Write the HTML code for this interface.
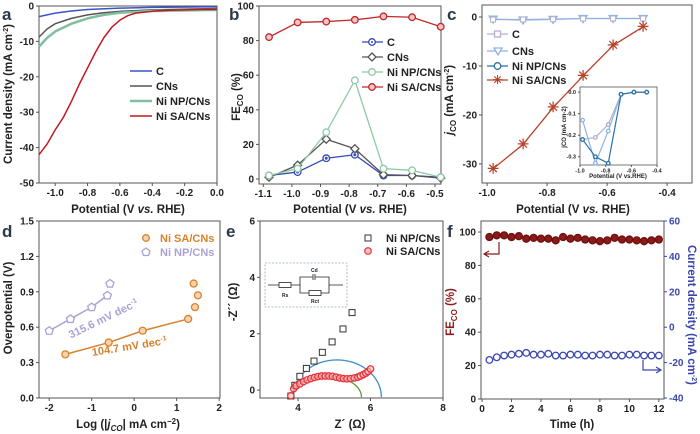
<!DOCTYPE html>
<html><head><meta charset="utf-8"><style>
html,body{margin:0;padding:0;background:#fff}
svg{display:block;font-family:"Liberation Sans",Arial,sans-serif;font-weight:bold}
.tk{font-size:10px;fill:#222}
.ti{font-size:11.5px;fill:#222}
.lg{font-size:11px;fill:#222}
.pl{font-size:17px;fill:#2b3a4a}
</style></head><body>
<svg id="fig" width="700" height="434" viewBox="0 0 700 434">
<g id="static">
<text class="pl" x="2" y="20">a</text>
<text class="pl" x="229" y="20">b</text>
<text class="pl" x="447" y="20">c</text>
<text class="pl" x="2" y="237">d</text>
<text class="pl" x="226" y="237">e</text>
<text class="pl" x="447" y="237">f</text>

<text class="ti" x="128" y="213" text-anchor="middle">Potential (V <tspan font-style="italic">vs.</tspan> RHE)</text>
<text class="ti" transform="translate(12,94) rotate(-90)" text-anchor="middle">Current density (mA cm<tspan dy="-4" font-size="7">-2</tspan><tspan dy="4">)</tspan></text>
<text class="ti" x="350" y="213" text-anchor="middle">Potential (V <tspan font-style="italic">vs.</tspan> RHE)</text>
<text class="ti" transform="translate(240,97) rotate(-90)" text-anchor="middle">FE<tspan dy="3" font-size="8">CO</tspan><tspan dy="-3"> (%)</tspan></text>
<text class="ti" x="573" y="213" text-anchor="middle">Potential (V <tspan font-style="italic">vs.</tspan> RHE)</text>
<text class="ti" transform="translate(453,100) rotate(-90)" text-anchor="middle"><tspan font-style="italic">j</tspan><tspan dy="3" font-size="8">CO</tspan><tspan dy="-3"> (mA cm</tspan><tspan dy="-4" font-size="7">-2</tspan><tspan dy="4">)</tspan></text>
<text class="ti" x="128" y="428" text-anchor="middle">Log (|<tspan font-style="italic">j</tspan><tspan dy="3" font-size="8" font-style="italic">CO</tspan><tspan dy="-3">| mA cm</tspan><tspan dy="-4" font-size="8">−2</tspan><tspan dy="4">)</tspan></text>
<text class="ti" transform="translate(12,308) rotate(-90)" text-anchor="middle">Overpotential (V)</text>
<text class="ti" x="350" y="428" text-anchor="middle">Z´ (Ω)</text>
<text class="ti" transform="translate(237,302) rotate(-90)" text-anchor="middle">-Z´´ (Ω)</text>
<text class="ti" x="572" y="428" text-anchor="middle">Time (h)</text>
<text class="ti" transform="translate(454,312) rotate(-90)" text-anchor="middle" style="fill:#8b1a1a">FE<tspan dy="3" font-size="8">CO</tspan><tspan dy="-3"> (%)</tspan></text>
<text class="ti" transform="translate(688,315) rotate(90)" text-anchor="middle" style="fill:#3b46b0">Current density (mA cm<tspan dy="-4" font-size="7">-2</tspan><tspan dy="4">)</tspan></text>

<g>
<line x1="130" y1="71" x2="152" y2="71" stroke="#3a55c8" stroke-width="1.5"/><text class="lg" x="156" y="75">C</text>
<line x1="130" y1="86" x2="152" y2="86" stroke="#555" stroke-width="1.5"/><text class="lg" x="156" y="90">CNs</text>
<line x1="130" y1="101" x2="152" y2="101" stroke="#7fbf9f" stroke-width="2.5"/><text class="lg" x="156" y="105">Ni NP/CNs</text>
<line x1="130" y1="116" x2="152" y2="116" stroke="#c0191f" stroke-width="1.5"/><text class="lg" x="156" y="120">Ni SA/CNs</text>
</g>
<g>
<line x1="362" y1="42" x2="383" y2="42" stroke="#3347b5" stroke-width="1.3"/><circle cx="372" cy="42" r="3.3" fill="#fff" stroke="#3347b5" stroke-width="1.3"/><circle cx="372" cy="42" r="1" fill="#3347b5"/><text class="lg" x="387" y="46">C</text>
<line x1="362" y1="57" x2="383" y2="57" stroke="#555" stroke-width="1.3"/><path d="M372 53 L376 57 L372 61 L368 57Z" fill="#fff" stroke="#555" stroke-width="1.3"/><text class="lg" x="387" y="61">CNs</text>
<line x1="362" y1="72" x2="383" y2="72" stroke="#8fc9a7" stroke-width="1.3"/><circle cx="372" cy="72" r="3.3" fill="#fff" stroke="#8fc9a7" stroke-width="1.3"/><text class="lg" x="387" y="76">Ni NP/CNs</text>
<line x1="362" y1="87" x2="383" y2="87" stroke="#c0282a" stroke-width="1.3"/><circle cx="372" cy="87" r="3.3" fill="#f3c4c4" stroke="#c0282a" stroke-width="1.3"/><text class="lg" x="387" y="91">Ni SA/CNs</text>
</g>
<g>
<line x1="487" y1="34" x2="508" y2="34" stroke="#b3aed0" stroke-width="1.3"/><rect x="494.5" y="31" width="6" height="6" fill="#fff" stroke="#b3aed0" stroke-width="1.3"/><text class="lg" x="512" y="38">C</text>
<line x1="487" y1="51" x2="508" y2="51" stroke="#8fb4e0" stroke-width="1.3"/><path d="M494 48 L502 48 L498 55Z" fill="#fff" stroke="#8fb4e0" stroke-width="1.3"/><text class="lg" x="512" y="55">CNs</text>
<line x1="487" y1="66" x2="508" y2="66" stroke="#2a6fa8" stroke-width="1.3"/><circle cx="497.5" cy="66" r="3.3" fill="#fff" stroke="#2a6fa8" stroke-width="1.3"/><text class="lg" x="512" y="70">Ni NP/CNs</text>
<line x1="487" y1="80" x2="508" y2="80" stroke="#b8432c" stroke-width="1.3"/><text x="497.5" y="84" text-anchor="middle" font-size="12" fill="#b8432c">✳</text><text class="lg" x="512" y="84">Ni SA/CNs</text>
</g>
<g>
<circle cx="146" cy="238" r="3.3" fill="#f6d2ae" stroke="#d9822b" stroke-width="1.3"/><text class="lg" x="160" y="242" fill="#d9822b" style="fill:#d9822b">Ni SA/CNs</text>
<path d="M146 248 L150 251 L148.5 255.5 L143.5 255.5 L142 251Z" fill="#fff" stroke="#a9a3d4" stroke-width="1.3"/><text class="lg" x="160" y="256" style="fill:#a9a3d4">Ni NP/CNs</text>
</g>
<text font-size="11" transform="translate(105,322) rotate(-26)" text-anchor="middle" fill="#a9a3d4">315.6 mV dec<tspan dy="-4" font-size="7">-1</tspan></text>
<text font-size="11" transform="translate(130,350) rotate(-9)" text-anchor="middle" fill="#d9822b">104.7 mV dec<tspan dy="-4" font-size="7">-1</tspan></text>
<g>
<rect x="365" y="235" width="6" height="6" fill="#fff" stroke="#333" stroke-width="1"/><text class="lg" x="386" y="242">Ni NP/CNs</text>
<circle cx="368" cy="251" r="3.3" fill="#f8c0c0" stroke="#e8333a" stroke-width="1.2"/><text class="lg" x="386" y="255">Ni SA/CNs</text>
</g>
<g>
<rect x="265" y="263" width="82" height="44" fill="none" stroke="#9ab" stroke-width="0.8" stroke-dasharray="2,1.5"/>
<path d="M268 285 H279 M291 285 H300 V277 H313 M315 277 H329 V285 H343 M300 285 V293 H309 M321 293 H329 V285" fill="none" stroke="#222" stroke-width="0.8"/>
<rect x="279" y="282.5" width="12" height="5" fill="#fff" stroke="#222" stroke-width="0.8"/>
<rect x="309" y="290.5" width="12" height="5" fill="#fff" stroke="#222" stroke-width="0.8"/>
<line x1="313" y1="274" x2="313" y2="280" stroke="#222" stroke-width="0.8"/><line x1="315" y1="274" x2="315" y2="280" stroke="#222" stroke-width="0.8"/>
<text x="311" y="272" font-size="5" fill="#222">Cd</text><text x="282" y="297" font-size="5" fill="#222">Rs</text><text x="311" y="303" font-size="5" fill="#222">Rct</text>
</g>
<path d="M499 242 V254 H485 M489 251 L484 254 L489 257" fill="none" stroke="#8b1a1a" stroke-width="1.2"/>
<path d="M643 360 V370 H660 M656 367 L661 370 L656 373" fill="none" stroke="#3b46b0" stroke-width="1.2"/>
</g>
<g id="dyn"></g>
</svg>
<script>
// ---------- data ----------
const aX_C=[-1.1,-1.0,-0.9,-0.8,-0.6,-0.4,0];
const aY_C=[-3,-2,-1.4,-1,-0.6,-0.4,-0.2];
const aX_CNs=[-1.1,-1.05,-1.0,-0.9,-0.8,-0.7,-0.6,-0.4,0];
const aY_CNs=[-8.8,-6.5,-5,-3.5,-2.5,-1.9,-1.5,-1.1,-0.7];
const aX_NP=[-1.1,-1.05,-1.0,-0.9,-0.8,-0.7,-0.6,-0.4,0];
const aY_NP=[-11.5,-9,-7.2,-5,-3.5,-2.5,-1.9,-1.4,-1.1];
const aX_SA=[-1.1,-1.05,-1.0,-0.95,-0.9,-0.85,-0.8,-0.75,-0.7,-0.65,-0.6,-0.55,-0.5,-0.4,-0.3,-0.2,-0.1,0];
const aY_SA=[-42,-39,-35,-31.5,-27,-22,-17.5,-13,-9,-6,-4,-2.7,-2,-1.5,-1.2,-1.1,-1.0,-1.0];
const aXTicks=[-1.0,-0.8,-0.6,-0.4,-0.2,0.0];
const aXLabels=["-1.0","-0.8","-0.6","-0.4","-0.2","0.0"];
const aYTicks=[0,-10,-20,-30,-40,-50];

const bX=[-1.08,-0.98,-0.88,-0.78,-0.68,-0.58,-0.48];
const bSA=[82,90.5,91,92,94,93.5,88];
const bNP=[2,6,27,57,6,5,1];
const bCNs=[1,8,23,17.5,2.5,2,0.5];
const bC=[2,4,12,14,2,2,1];
const bXTicks=[-1.1,-1.0,-0.9,-0.8,-0.7,-0.6,-0.5];
const bXLabels=["-1.1","-1.0","-0.9","-0.8","-0.7","-0.6","-0.5"];
const bYTicks=[0,20,40,60,80,100];

const cX=[-0.98,-0.88,-0.78,-0.68,-0.58,-0.48];
const cSA=[-31,-26,-18.5,-12,-5.8,-2];
const cC=[-0.22,-0.21,-0.15,-0.01,0,0];
const cCNs=[-0.13,-0.33,-0.18,-0.01,0,0];
const cNP=[-0.22,-0.30,-0.33,-0.01,0,0];
const cXTicks=[-1.0,-0.8,-0.6,-0.4];
const cXLabels=["-1.0","-0.8","-0.6","-0.4"];
const cYTicks=[0,-10,-20,-30];
const ciYTicks=[0,-0.1,-0.2,-0.3];
const ciYLabels=["0.0","-0.1","-0.2","-0.3"];

const dSAx=[-1.62,-0.6,0.2,1.27];
const dSAy=[0.37,0.47,0.57,0.67];
const dSAxExtra=[1.4,1.5,1.43];
const dSAyExtra=[0.97,0.87,0.77];
const dNPx=[-2,-1.5,-1,-0.63];
const dNPy=[0.57,0.67,0.77,0.87];
const dNPxExtra=[-0.57];
const dNPyExtra=[0.97];
const dXTicks=[-2,-1,0,1,2];
const dYTicks=[0,0.3,0.6,0.9,1.2,1.5];
const dYLabels=["0.0","0.3","0.6","0.9","1.2","1.5"];

const eNPx=[3.80,3.91,4.05,4.23,4.44,4.67,4.94,5.24,5.49];
const eNPy=[-0.21,0.17,0.49,0.77,1.03,1.34,1.71,2.17,2.75];
const eSAx=[3.8,3.88,3.95,4.05,4.15,4.25,4.35,4.45,4.55,4.65,4.75,4.85,4.95,5.05,5.15,5.25,5.35,5.45,5.55,5.65,5.72,5.8,5.87,5.93,6.0];
const eSAy=[-0.2,0.05,0.15,0.22,0.3,0.36,0.41,0.45,0.48,0.5,0.5,0.5,0.49,0.46,0.43,0.41,0.4,0.41,0.43,0.46,0.5,0.55,0.6,0.66,0.75];
const eFitBlue=[3.85,6.3,1.07];
const eFitGreen=[3.85,5.75,0.5];
const eXTicks=[4,6,8];
const eYTicks=[0,2,4,6];

const fT=[0.5,1,1.5,2,2.5,3,3.5,4,4.5,5,5.5,6,6.5,7,7.5,8,8.5,9,9.5,10,10.5,11,11.5,12];
const fFE=[97,98,98,97,97.5,96,96.5,96,96,95,97,96,96.5,95.5,95,94.5,95,96.5,95.5,95.5,95,94.5,95,95.5];
const fJ=[-18.5,-17,-16,-15.5,-15,-14.5,-15.5,-15.5,-15,-16,-16,-15.5,-15.5,-16,-16,-15.5,-15.5,-16,-16,-15.5,-15.5,-16,-16,-16];
const fXTicks=[0,2,4,6,8,10,12];
const fYTicks=[0,20,40,60,80,100];
const fRTicks=[-40,-20,0,20,40,60];

// ---------- helpers ----------
const NS="http://www.w3.org/2000/svg";
const root=document.getElementById('dyn');
function mk(tag,attrs,parent){const e=document.createElementNS(NS,tag);for(const k in attrs)e.setAttribute(k,attrs[k]);(parent||root).appendChild(e);return e;}
function scale(d0,d1,p0,p1){return v=>p0+(v-d0)*(p1-p0)/(d1-d0);}
function frame(id,l,t,r,b){const e=mk('rect',{x:l,y:t,width:r-l,height:b-t,fill:'none',stroke:'#555','stroke-width':1});

}
function xTicks(id,sx,b,ticks,labels,fs,len,cls){ticks.forEach((v,i)=>{const x=sx(v);
const ln=mk('line',{x1:x,y1:b,x2:x,y2:b+len,stroke:'#555','stroke-width':1});


const tx=mk('text',{x:x,y:b+len+fs,'text-anchor':'middle','font-size':fs,fill:'#222'});
tx.textContent=labels?labels[i]:String(v);

});}
function yTicks(id,sy,l,ticks,labels,fs,len,side,col){ticks.forEach((v,i)=>{const y=sy(v);const d=side==='r'?1:-1;
const ln=mk('line',{x1:l,y1:y,x2:l+d*len,y2:y,stroke:col||'#555','stroke-width':1});


const tx=mk('text',{x:l+d*(len+2),y:y+fs*0.35,'text-anchor':side==='r'?'start':'end','font-size':fs,fill:col||'#222'});
tx.textContent=labels?labels[i]:String(v);

});}
function line(xs,ys,sx,sy,col,w,name){const p=mk('polyline',{points:xs.map((x,i)=>sx(x)+','+sy(ys[i])).join(' '),fill:'none',stroke:col,'stroke-width':w,'stroke-linejoin':'round'});

return p;}
function circ(x,y,r,fill,stroke,name){const c=mk('circle',{cx:x,cy:y,r:r,fill:fill,stroke:stroke,'stroke-width':1.3});

return c;}

// ---------- panel a ----------
{const sx=scale(-1.1,0,39,217),sy=scale(-50,0,183,6);
frame('a',39,6,217,183);
xTicks('a',sx,183,aXTicks,aXLabels,10,3);yTicks('a',sy,39,aYTicks,null,10,3);
line(aX_C,aY_C,sx,sy,'#3a55c8',1.5,'a-line-c');
line(aX_CNs,aY_CNs,sx,sy,'#555',1.5,'a-line-cns');
line(aX_NP,aY_NP,sx,sy,'#7fbf9f',2.5,'a-line-ni-np');
line(aX_SA,aY_SA,sx,sy,'#c0191f',1.5,'a-line-ni-sa');}

// ---------- panel b ----------
{const sx=scale(-1.115,-0.479,259,441),sy=scale(-2.9,100,184,6);
frame('b',259,6,441,184);
xTicks('b',sx,184,bXTicks,bXLabels,10,3);yTicks('b',sy,259,bYTicks,null,10,3);
const ser=[[bC,'#3347b5','c'],[bCNs,'#555','cns'],[bNP,'#8fc9a7','ni-np'],[bSA,'#c0282a','ni-sa']];
ser.forEach(s=>{line(bX,s[0],sx,sy,s[1],1.3,'b-line-'+s[2]);
bX.forEach((x,i)=>{const X=sx(x),Y=sy(s[0][i]);
if(s[2]==='cns'){const p=mk('path',{d:`M${X} ${Y-4}L${X+4} ${Y}L${X} ${Y+4}L${X-4} ${Y}Z`,fill:'#fff',stroke:s[1],'stroke-width':1.3});

}
else{circ(X,Y,3.3,s[2]==='ni-sa'?'#f3c4c4':'#fff',s[1],'b-point-'+s[2]);
if(s[2]==='c'){const d=circ(X,Y,0.8,s[1],s[1],'b-point-c-dot');}}});});}

// ---------- panel c ----------
{const sx=scale(-1.017,-0.317,482,692),sy=scale(-33.9,2.45,183,5);
frame('c',482,5,692,183);
xTicks('c',sx,183,cXTicks,cXLabels,10,3);yTicks('c',sy,482,cYTicks,null,10,3);
const zero=cX.map(()=>-0.25);
line(cX,cC.map(v=>v*1),sx,v=>sy(v*1-0.3),'#b3aed0',1.3,'c-line-c');
line(cX,cCNs,sx,v=>sy(v-0.3),'#8fb4e0',1.3,'c-line-cns');
cX.forEach((x,i)=>{const X=sx(x),Y=sy(cCNs[i]-0.3);
const p=mk('path',{d:`M${X-4} ${Y-3}L${X+4} ${Y-3}L${X} ${Y+4}Z`,fill:'#fff',stroke:'#8fb4e0','stroke-width':1.3});


const r=mk('rect',{x:X-2.5,y:sy(cC[i]-0.3)-2.5,width:5,height:5,fill:'#fff',stroke:'#b3aed0','stroke-width':1});

});
line(cX,cSA,sx,sy,'#b8432c',1.3,'c-line-ni-sa');
cX.forEach((x,i)=>{const t=mk('text',{x:sx(x),y:sy(cSA[i])+4.5,'text-anchor':'middle','font-size':14,fill:'#b8432c'});t.textContent='✳';

});
// inset
const ix=scale(-1.0,-0.4,580,657),iy=scale(-0.338,0.024,165,87);
const bg=mk('rect',{x:580,y:87,width:77,height:78,fill:'#fff',stroke:'#555','stroke-width':0.8});


xTicks('c-inset',ix,165,cXTicks,cXLabels,5.5,2);yTicks('c-inset',iy,580,ciYTicks,ciYLabels,5.5,2);
const it=mk('text',{x:618,y:178,'text-anchor':'middle','font-size':6,fill:'#222'});it.textContent='Potential (V vs.RHE)';


const iy2=mk('text',{transform:'translate(566,127) rotate(-90)','text-anchor':'middle','font-size':6,fill:'#222'});iy2.textContent='jCO (mA cm-2)';


[[cC,'#b3aed0','c'],[cCNs,'#8fb4e0','cns'],[cNP,'#2a6fa8','ni-np']].forEach(s=>{line(cX,s[0],ix,iy,s[1],1.2,'c-inset-line-'+s[2]);
cX.forEach((x,i)=>circ(ix(x),iy(s[0][i]),1.8,'#fff',s[1],'c-inset-point-'+s[2]));});}

// ---------- panel d ----------
{const sx=scale(-2.24,2.02,39,220),sy=scale(0,1.5,398,221);
frame('d',39,221,220,398);
xTicks('d',sx,398,dXTicks,null,10,3);yTicks('d',sy,39,dYTicks,dYLabels,10,3);
line(dNPx,dNPy,sx,sy,'#a9a3d4',1.5,'d-fit-ni-np');
line(dSAx,dSAy,sx,sy,'#d9822b',1.5,'d-fit-ni-sa');
dSAx.concat(dSAxExtra).forEach((x,i)=>circ(sx(x),sy(dSAy.concat(dSAyExtra)[i]),3.5,'#f6d2ae','#d9822b','d-point-ni-sa'));
dNPx.concat(dNPxExtra).forEach((x,i)=>{const X=sx(x),Y=sy(dNPy.concat(dNPyExtra)[i]);
const p=mk('path',{d:`M${X} ${Y-4}L${X+4} ${Y-1}L${X+2.5} ${Y+3.5}L${X-2.5} ${Y+3.5}L${X-4} ${Y-1}Z`,fill:'#fff',stroke:'#a9a3d4','stroke-width':1.3});

});}

// ---------- panel e ----------
{const sx=scale(2.95,8,260,443),sy=scale(-0.28,6,398,221);
frame('e',260,221,443,398);
xTicks('e',sx,398,eXTicks,null,10,3);yTicks('e',sy,260,eYTicks,null,10,3);
function arc(f,col,name){const a=f[0],b=f[1],h=f[2],c=(a+b)/2,r=(b-a)/2;const xs=[],ys=[];
for(let k=0;k<=60;k++){const th=Math.PI-Math.PI*k/60;xs.push(c+r*Math.cos(th));ys.push(h*Math.sin(th)-0.25*(1-Math.sin(th)));}
line(xs,ys,sx,sy,col,1.3,name);}
arc(eFitBlue,'#3d8cd1','e-fit-ni-np');arc(eFitGreen,'#5a9a3a','e-fit-ni-sa');
eNPx.forEach((x,i)=>{const r=mk('rect',{x:sx(x)-3,y:sy(eNPy[i])-3,width:6,height:6,fill:'#fff',stroke:'#333','stroke-width':1});

});
eSAx.forEach((x,i)=>circ(sx(x),sy(eSAy[i]),3.2,'rgba(248,192,192,0.6)','#e8333a','e-point-ni-sa'));}

// ---------- panel f ----------
{const sx=scale(-0.07,12.35,481,664),sy=scale(0,106.6,399,221),sr=scale(-40,60,398,221);
frame('f',481,221,664,399);
xTicks('f',sx,399,fXTicks,null,10,3);yTicks('f',sy,481,fYTicks,null,10,3);
yTicks('f-right',sr,664,fRTicks,null,10,3,'r','#3b46b0');
fT.forEach((t,i)=>{circ(sx(t),sy(fFE[i]),3.5,'#8b1a1a','#6e1010','f-point-fe');
circ(sx(t),sr(fJ[i]),3.3,'#fff','#3b46b0','f-point-current');});}
</script>
</body></html>
